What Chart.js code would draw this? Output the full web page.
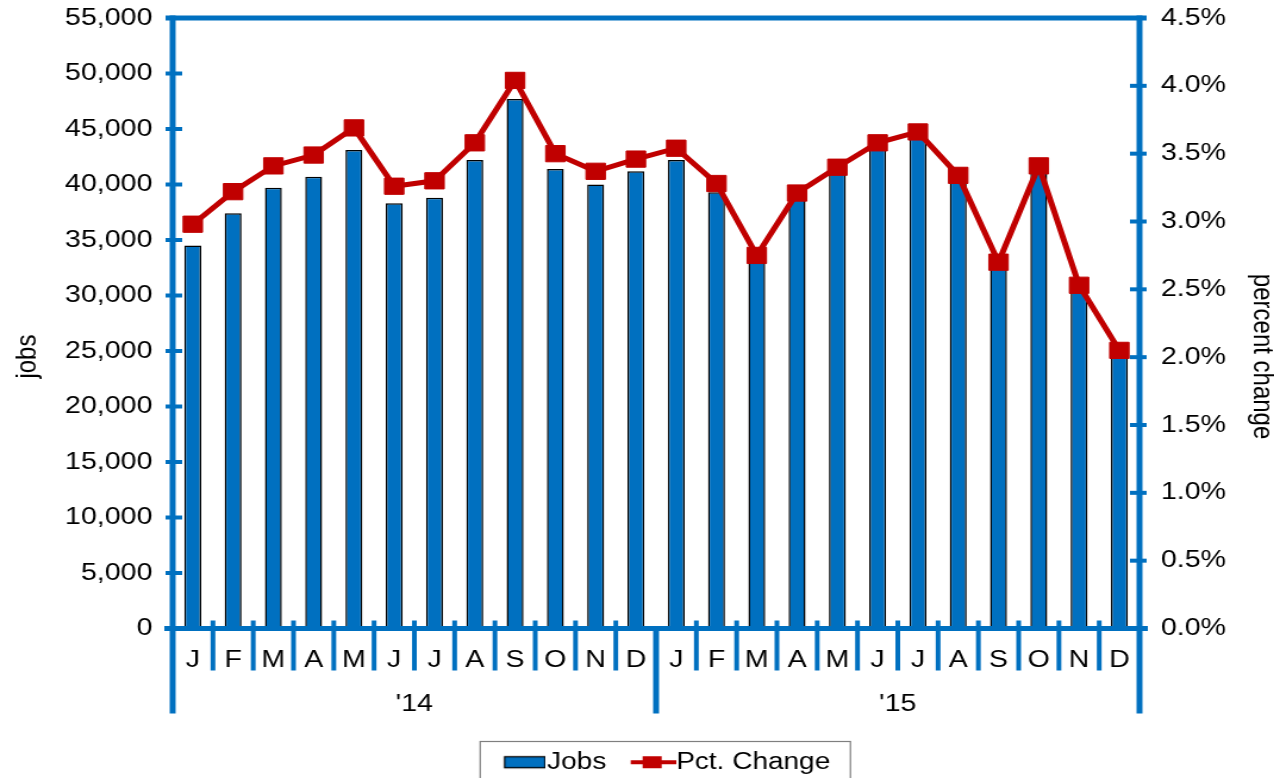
<!DOCTYPE html>
<html>
<head>
<meta charset="utf-8">
<script src="https://cdn.jsdelivr.net/npm/chart.js@4.4.1/dist/chart.umd.min.js"></script>
<style>
html, body { margin: 0; padding: 0; background: #fff; overflow: hidden; }
#wrap { width: 1274px; height: 778px; overflow: hidden; }
#chart { transform: scaleX(1.1907); transform-origin: 0 0; }
</style>
</head>
<body>
<div id="wrap"><canvas id="chart" width="1070" height="778"></canvas></div>
<script>
var months = ['J', 'F', 'M', 'A', 'M', 'J', 'J', 'A', 'S', 'O', 'N', 'D',
              'J', 'F', 'M', 'A', 'M', 'J', 'J', 'A', 'S', 'O', 'N', 'D'];
var years = ["'14", "'15"];
var jobs = [34500, 37400, 39700, 40700, 43100, 38300, 38800, 42200, 47700, 41400, 40000, 41200,
            42200, 39300, 33200, 38900, 41200, 43400, 44600, 40800, 32700, 41300, 30600, 25000];
var pctChange = [2.98, 3.22, 3.41, 3.49, 3.69, 3.26, 3.30, 3.58, 4.04, 3.50, 3.37, 3.46,
                 3.54, 3.28, 2.75, 3.21, 3.40, 3.58, 3.66, 3.34, 2.70, 3.41, 2.53, 2.05];

var blue = '#0070C0';
var red = '#C00000';

Chart.defaults.font.family = '"Liberation Sans", Arial, sans-serif';
Chart.defaults.font.size = 24;
Chart.defaults.color = '#000';

// the axis titles sit a bit below the middle of the plot, pad them with spaces
var pad = '          ';

// legend icons, content pushed to the right so it sits close to the text
function makeIcon(kind) {
    var c = document.createElement('canvas');
    var g;
    if (kind === 'bar') {
        c.width = 64;
        c.height = 20;
        g = c.getContext('2d');
        g.fillStyle = blue;
        g.fillRect(29.5, 4.5, 34, 11);
        g.strokeStyle = '#000';
        g.lineWidth = 1.3;
        g.strokeRect(29.5, 4.5, 34, 11);
    } else {
        c.width = 66;
        c.height = 20;
        g = c.getContext('2d');
        g.strokeStyle = red;
        g.lineWidth = 4;
        g.beginPath();
        g.moveTo(28, 10);
        g.lineTo(66, 10);
        g.stroke();
        g.fillStyle = red;
        g.fillRect(38, 4, 16, 12);
    }
    return c;
}
var icons = [makeIcon('bar'), makeIcon('line')];

var framePlugin = {
    id: 'frame',
    afterDatasetsDraw: function(chart) {
        var ctx = chart.ctx;
        var a = chart.chartArea;
        var xs = chart.scales.x, ys = chart.scales.y, y1 = chart.scales.y1;
        ctx.save();
        ctx.strokeStyle = blue;
        ctx.lineCap = 'butt';

        function seg(x0, y0, x1, y1_, w) {
            ctx.lineWidth = w;
            ctx.beginPath();
            ctx.moveTo(x0, y0);
            ctx.lineTo(x1, y1_);
            ctx.stroke();
        }

        // left / right axes and top border
        seg(a.left, a.top - 2.5, a.left, a.bottom, 5);
        seg(a.right, a.top - 2.5, a.right, a.bottom, 5);
        seg(a.left - 6, a.top, a.right + 6, a.top, 5);

        ys.ticks.forEach(function(t) {
            var py = ys.getPixelForValue(t.value);
            seg(a.left - 6, py, a.left + 8, py, 4);
        });
        y1.ticks.forEach(function(t) {
            var py = y1.getPixelForValue(t.value);
            seg(a.right - 8, py, a.right + 6, py, 4);
        });

        // category separators, longer ones between years
        for (var i = 0; i <= months.length; i++) {
            var px;
            if (i === 0) px = a.left;
            else if (i === months.length) px = a.right;
            else px = (xs.getPixelForValue(i - 1) + xs.getPixelForValue(i)) / 2;
            if (i % 12 === 0) seg(px, a.bottom, px, a.bottom + 85, 5);
            else seg(px, a.bottom - 8, px, a.bottom + 42, 4);
        }
        seg(a.left - 7, a.bottom, a.right + 7, a.bottom, 5);
        ctx.restore();
    },
    afterDraw: function(chart) {
        var lg = chart.legend;
        if (!lg || !lg.legendHitBoxes.length) return;
        var hb = lg.legendHitBoxes;
        var last = hb[hb.length - 1];
        var ctx = chart.ctx;
        ctx.save();
        ctx.strokeStyle = '#7f7f7f';
        ctx.lineWidth = 1.2;
        var left = hb[0].left - 1.5;
        var right = last.left + last.width + 17;
        ctx.strokeRect(left, 741.5, right - left, 60);
        ctx.restore();
    }
};

new Chart(document.getElementById('chart'), {
    type: 'bar',
    data: {
        labels: months,
        datasets: [{
            label: 'Jobs',
            data: jobs,
            yAxisID: 'y',
            backgroundColor: blue,
            borderColor: '#000',
            borderWidth: 1.5,
            barPercentage: 0.42,
            categoryPercentage: 1,
            order: 2
        }, {
            type: 'line',
            label: 'Pct. Change',
            data: pctChange,
            yAxisID: 'y1',
            borderColor: red,
            backgroundColor: red,
            borderWidth: 5,
            pointStyle: 'rect',
            pointRadius: 11.5,
            pointBorderWidth: 1,
            pointBackgroundColor: red,
            pointBorderColor: red,
            tension: 0,
            order: 1
        }]
    },
    options: {
        responsive: false,
        animation: false,
        layout: { padding: { top: 18, left: 0, right: 0, bottom: -6 } },
        plugins: {
            tooltip: { enabled: false },
            legend: {
                position: 'bottom',
                fullSize: false,
                labels: {
                    usePointStyle: true,
                    pointStyleWidth: 43,
                    padding: 4,
                    color: '#000',
                    font: { size: 23.5 },
                    sort: function(a, b) { return a.datasetIndex - b.datasetIndex; },
                    generateLabels: function(chart) {
                        var items = Chart.defaults.plugins.legend.labels.generateLabels(chart);
                        items.forEach(function(it) { it.pointStyle = icons[it.datasetIndex]; });
                        return items;
                    }
                }
            }
        },
        scales: {
            x: {
                position: 'bottom',
                weight: 0,
                grid: { display: false },
                border: { display: false },
                ticks: { autoSkip: false, maxRotation: 0, padding: 9 },
                afterFit: function(s) { s.height = 55; }
            },
            x2: {
                type: 'category',
                labels: years,
                position: 'bottom',
                weight: 1,
                offset: true,
                grid: { display: false },
                border: { display: false },
                ticks: { autoSkip: false, maxRotation: 0, padding: -2 },
                afterFit: function(s) { s.height = 63; }
            },
            y: {
                position: 'left',
                min: 0,
                max: 55000,
                grid: { display: false },
                border: { display: false },
                ticks: {
                    stepSize: 5000,
                    padding: 9,
                    font: { size: 24, lineHeight: 0.2 },
                    callback: function(v) { return v.toLocaleString('en-US'); }
                },
                title: { display: true, text: 'jobs' + pad, padding: { top: 9, bottom: 0 } },
                afterFit: function(s) { s.width = 145; }
            },
            y1: {
                position: 'right',
                min: 0,
                max: 4.5,
                grid: { display: false },
                border: { display: false },
                ticks: {
                    stepSize: 0.5,
                    padding: 10,
                    font: { size: 24, lineHeight: 0.2 },
                    callback: function(v) { return v.toFixed(1) + '%'; }
                },
                title: { display: true, text: pad + 'percent change', padding: { top: -4, bottom: 0 } },
                afterFit: function(s) { s.width = 113; }
            }
        }
    },
    plugins: [framePlugin]
});
</script>
</body>
</html>
